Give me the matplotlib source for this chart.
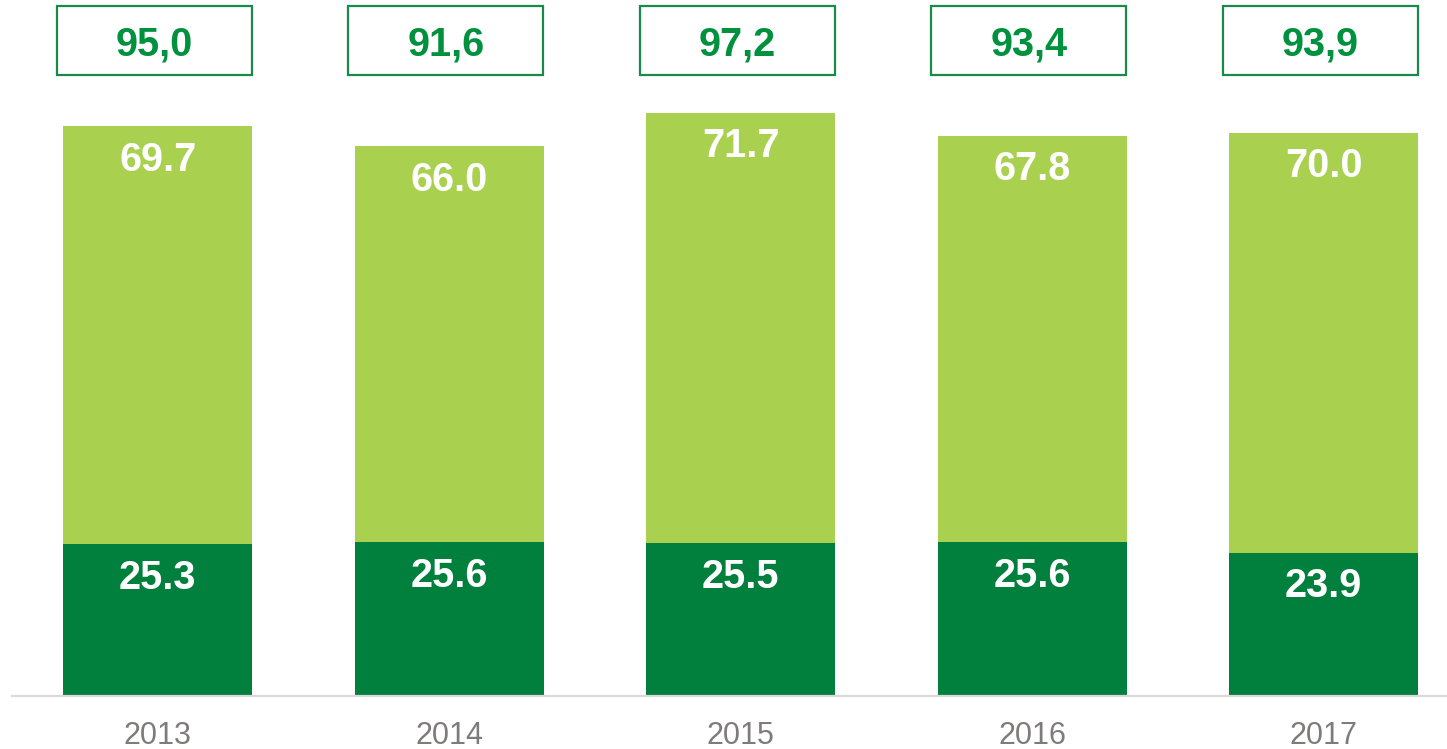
import matplotlib
matplotlib.use("Agg")
import matplotlib.pyplot as plt
from matplotlib.patches import Rectangle

years = ["2013", "2014", "2015", "2016", "2017"]
dark_vals = [25.3, 25.6, 25.5, 25.6, 23.9]
light_vals = [69.7, 66.0, 71.7, 67.8, 70.0]
total_labels = ["95,0", "91,6", "97,2", "93,4", "93,9"]

DARK = "#007f3d"
LIGHT = "#a9d04f"
BOX_TXT = "#00913f"
BOX_EDGE = "#1a8a4a"
GRAY = "#7f7b7b"

plt.rcParams['font.family'] = ['Liberation Sans', 'DejaVu Sans']

W, H = 1447, 749
fig = plt.figure(figsize=(W / 100, H / 100), dpi=100)
spacing = 291.5
ax_left = 12 / W
ax_w = 5 * spacing / W
ax_bottom = (H - 696) / H
ax = fig.add_axes([ax_left, ax_bottom, ax_w, 1 - ax_bottom])
ax.set_xlim(-0.5, 4.5)
ax.set_ylim(0, 116)

x = list(range(len(years)))
bw = 189 / spacing
ax.bar(x, dark_vals, width=bw, color=DARK, zorder=2)
ax.bar(x, light_vals, width=bw, bottom=dark_vals, color=LIGHT, zorder=2)

off = 5.6
for i in x:
    d = dark_vals[i]
    l = light_vals[i]
    ax.text(i, d - off, f"{d:.1f}", ha="center", va="center", color="white",
            fontsize=28.5, fontweight="bold", zorder=3)
    ax.text(i, d + l - off, f"{l:.1f}", ha="center", va="center", color="white",
            fontsize=28.5, fontweight="bold", zorder=3)
    # total box
    bx_w = 195 / spacing
    cx = i - 3.5 / spacing
    y0 = (696 - 75) / 6.0
    y1 = (696 - 6) / 6.0
    ax.add_patch(Rectangle((cx - bx_w / 2, y0), bx_w, y1 - y0, fill=False,
                           edgecolor=BOX_EDGE, linewidth=1.6, clip_on=False, zorder=3))
    ax.text(cx, (y0 + y1) / 2 - 0.7, total_labels[i], ha="center", va="center",
            color=BOX_TXT, fontsize=28.5, fontweight="bold", zorder=4)

for s in ["top", "right", "left"]:
    ax.spines[s].set_visible(False)
ax.spines["bottom"].set_color("#d9d9d9")
ax.spines["bottom"].set_linewidth(1.6)
ax.set_yticks([])
ax.set_xticks(x)
ax.set_xticklabels(years, fontsize=22, color=GRAY)
ax.tick_params(axis="x", length=0, pad=18)

fig.savefig("out.png", dpi=100)
